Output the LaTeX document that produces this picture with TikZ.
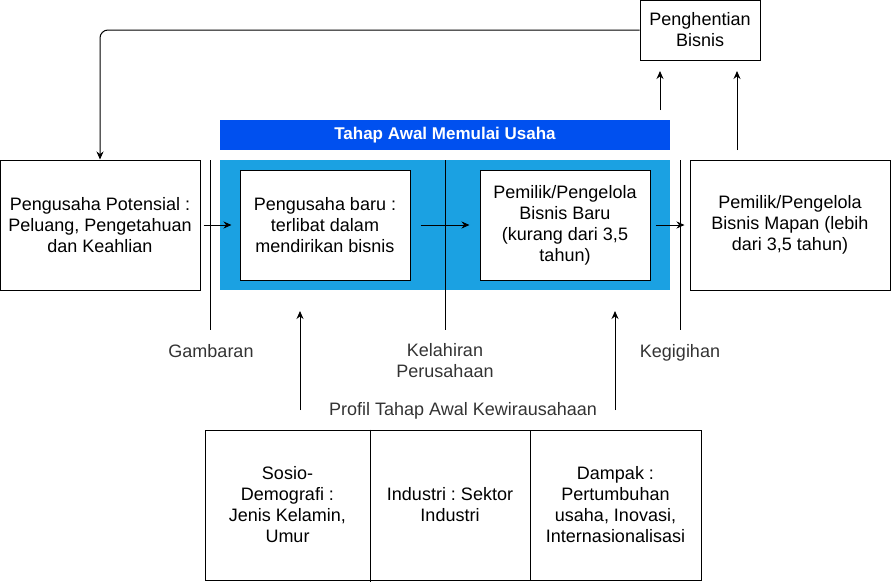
\documentclass[tikz,border=0pt]{standalone}
\usepackage{fontspec}
\setmainfont{Liberation Sans}
\usetikzlibrary{arrows.meta}
\definecolor{hdrblue}{HTML}{0050EF}
\definecolor{bodyblue}{HTML}{1BA1E2}
\frenchspacing
\begin{document}
\begin{tikzpicture}[x=1pt,y=-1pt,
  every node/.style={font=\fontsize{18}{21}\selectfont, align=center, inner sep=0pt},
  box/.style={draw=black, line width=1pt, fill=white},
  arr/.style={-{Stealth[length=8pt,width=7pt]}, line width=1pt},
  ln/.style={line width=1pt},
  lbl/.style={text=black!80}]
\useasboundingbox (0,0) rectangle (891,584);
% blue areas
\node[fill=hdrblue, minimum width=450pt, minimum height=30pt, text=white,
      font=\fontsize{17}{21}\selectfont\bfseries] (hdr) at (445,135) {Tahap Awal Memulai Usaha};
\node[fill=bodyblue, minimum width=450pt, minimum height=130pt] (body) at (445,225) {};
% boxes
\node[box, minimum width=120pt, minimum height=60pt] (stop) at (700,30) {Penghentian\\Bisnis};
\node[box, minimum width=200pt, minimum height=130pt] (pot) at (100,225) {Pengusaha Potensial :\\Peluang, Pengetahuan\\dan Keahlian};
\node[box, minimum width=170pt, minimum height=110pt] (baru) at (325,225) {Pengusaha baru :\\terlibat dalam\\mendirikan bisnis};
\node[box, minimum width=170pt, minimum height=110pt] (baru2) at (565,225) {Pemilik/Pengelola\\Bisnis Baru\\(kurang dari 3,5\\tahun)};
\node[box, minimum width=200pt, minimum height=130pt] (mapan) at (790,225) {Pemilik/Pengelola\\Bisnis Mapan (lebih\\dari 3,5 tahun)};
% vertical separators
\draw[ln] (210,160) -- (210,330);
\draw[ln] (445,160) -- (445,330);
\draw[ln] (680,160) -- (680,330);
% labels
\node[lbl] (gam) at (211,351) {Gambaran};
\node[lbl] (kel) at (445,360.5) {Kelahiran\\Perusahaan};
\node[lbl] (keg) at (680,353) {Kegigihan};
\node[lbl] (prof) at (463,410.5) {Profil Tahap Awal Kewirausahaan};
% table
\node[box, minimum width=165pt, minimum height=150pt] (c1) at (287.5,505) {Sosio-\\Demografi :\\Jenis Kelamin,\\Umur};
\node[box, minimum width=160pt, minimum height=150pt] (c2) at (450,505) {Industri : Sektor\\Industri};
\node[box, minimum width=171pt, minimum height=150pt] (c3) at (615.5,505) {Dampak :\\Pertumbuhan\\usaha, Inovasi,\\Internasionalisasi};
\draw[ln] (c1.north east) -- ++(0,152);
% connectors
\draw[arr, rounded corners=8pt] (stop.west) -- (100,30) -- (pot.north);
\draw[arr, shorten <=3pt, shorten >=8pt] (pot.east) -- (baru.west);
\draw[arr, shorten <=10pt, shorten >=10pt] (baru.east) -- (baru2.west);
\draw[arr, shorten <=5pt, shorten >=5pt] (baru2.east) -- (mapan.west);
\coordinate (s1) at (660,110);
\coordinate (e1) at (660,71);
\draw[arr] (s1) -- (e1);
\coordinate (s2) at (737,150);
\coordinate (e2) at (737,71);
\draw[arr] (s2) -- (e2);
\coordinate (s3) at (300,410);
\coordinate (e3) at (300,311);
\draw[arr] (s3) -- (e3);
\coordinate (s4) at (615,410);
\coordinate (e4) at (615,311);
\draw[arr] (s4) -- (e4);
\end{tikzpicture}
\end{document}
